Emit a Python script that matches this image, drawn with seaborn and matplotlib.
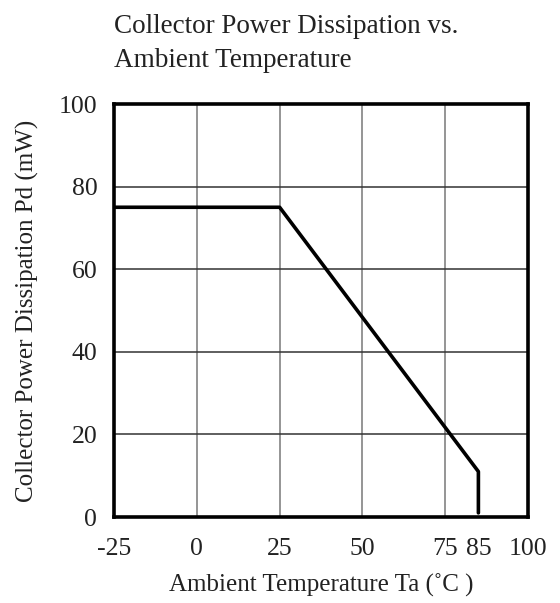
import pandas as pd
import matplotlib
matplotlib.use('Agg')
import matplotlib.pyplot as plt
import seaborn as sns

# derating curve
temps = [-25, 25, 85, 85]
power = [75, 75, 11, 1]
x_ticks = [-25, 0, 25, 50, 75, 85, 100]
x_grid = [-25, 0, 25, 50, 75, 100]
y_ticks = [0, 20, 40, 60, 80, 100]

df = pd.DataFrame({'Ta': temps, 'Pd': power})

sns.set_style('white')
plt.rcParams['font.family'] = ['Liberation Serif', 'DejaVu Serif']

fig = plt.figure(figsize=(5.6, 6.03), dpi=100)
ax = fig.add_axes([0.2036, 0.1426, 0.7394, 0.6849])

# grid: grey verticals, dark horizontals
for x in x_grid:
    ax.axvline(x, color='#8c8c8c', lw=1.3, zorder=1)
for y in y_ticks[1:-1]:
    ax.axhline(y, color='#333333', lw=1.1, zorder=1)

sns.lineplot(data=df, x='Ta', y='Pd', sort=False, estimator=None,
             color='black', lw=2.6, ax=ax, zorder=3)

ax.set_xlim(-25, 100)
ax.set_ylim(0, 100)
ax.set_xticks(x_ticks)
ax.set_xticklabels([str(t) for t in x_ticks])
ax.set_yticks(y_ticks)
ax.tick_params(length=0, labelsize=18.5, colors='#222222')
ax.tick_params(axis='x', pad=15)
ax.tick_params(axis='y', pad=12)

for s in ax.spines.values():
    s.set_color('black')
    s.set_linewidth(2.6)
    s.set_visible(True)

ax.set_xlabel('Ambient Temperature Ta (˚C )', fontsize=18, color='#222222', labelpad=10)
ax.set_ylabel('Collector Power Dissipation Pd (mW)', fontsize=18, color='#222222', labelpad=14)
ax.set_title('Collector Power Dissipation vs.\nAmbient Temperature', loc='left',
             fontsize=19.5, color='#222222', pad=27, linespacing=1.45)

fig.savefig('out.png', dpi=100)
